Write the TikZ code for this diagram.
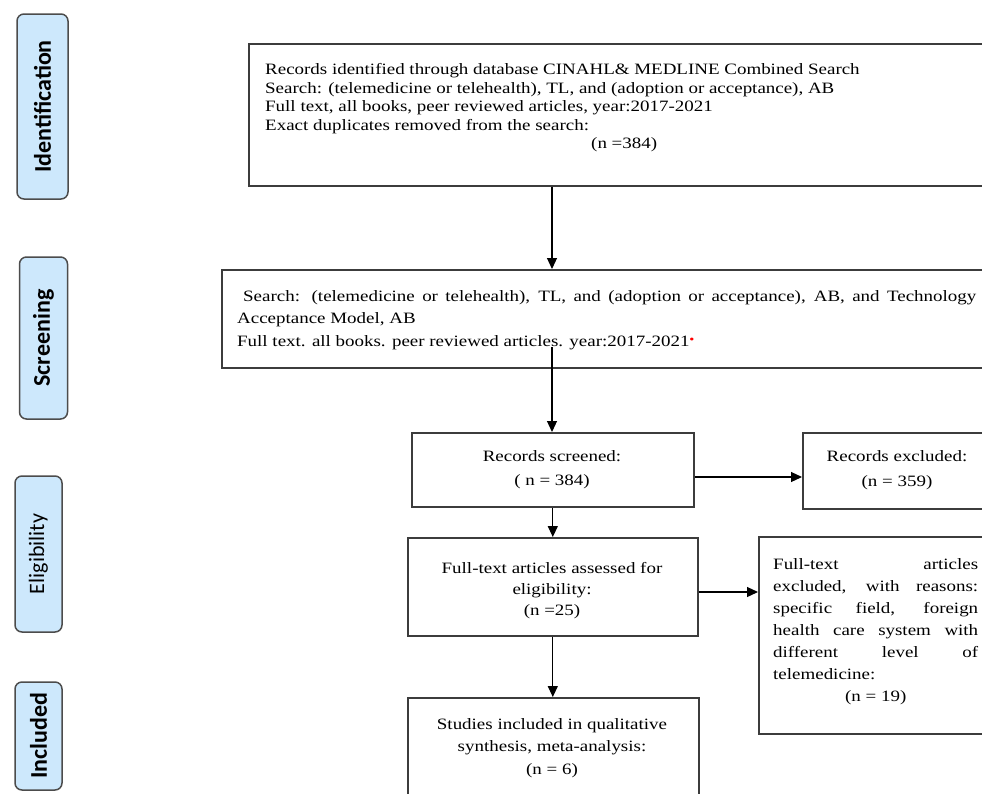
\documentclass[tikz,border=0pt]{standalone}
\usepackage{fontspec}
\setmainfont{Liberation Serif}[FakeStretch=1.2]
\newfontfamily\labelfont{Carlito}
\usetikzlibrary{arrows.meta}
\definecolor{sideblue}{RGB}{205,232,252}
\definecolor{boxline}{RGB}{60,60,60}
\begin{document}
\begin{tikzpicture}[x=1pt,y=-1pt,
  box/.style={draw=boxline, line width=1.6pt, rectangle, inner sep=0pt, anchor=north west},
  side/.style={draw=black!70, fill=sideblue, rounded corners=7pt, line width=1.5pt, inner sep=0pt},
  sidetext/.style={rotate=90, font=\labelfont\fontsize{24}{26}\selectfont\bfseries, inner sep=0pt},
  arr/.style={line width=1.2pt, -{Triangle[length=11pt,width=10pt]}},
  txt/.style={font=\fontsize{15.8}{22}\selectfont, inner sep=0pt},
]
\clip (0,0) rectangle (982,793);
\fill[white] (0,0) rectangle (982,793);

% side labels
\node[side, minimum width=51pt, minimum height=185pt] (s1) at (42.5,106.5) {};
\node[sidetext] (s1t) at (s1.center) {Identification};
\node[side, minimum width=48pt, minimum height=162pt] (s2) at (43.5,338) {};
\node[sidetext] (s2t) at (s2.center) {Screening};
\node[side, minimum width=47pt, minimum height=156pt] (s3) at (38.5,554) {};
\node[sidetext, font=\labelfont\fontsize{22}{24}\selectfont] (s3t) at (s3.center) {Eligibility};
\node[side, minimum width=47pt, minimum height=108pt] (s4) at (38.5,736) {};
\node[sidetext] (s4t) at (s4.center) {Included};

% boxes
\node[box, minimum width=760pt, minimum height=142pt] (b1) at (248,43) {};
\node[txt, font=\fontsize{15.8}{18.5}\selectfont, anchor=west, align=left] (t1) at (265,108)
  {Records identified through database CINAHL\& MEDLINE Combined Search\\
   Search: (telemedicine or telehealth), TL, and (adoption or acceptance), AB\\
   Full text, all books, peer reviewed articles, year:2017-2021\\
   Exact duplicates removed from the search:\\
   \hspace*{359pt}\makebox[0pt][c]{(n =384)}};

\node[box, minimum width=790pt, minimum height=98pt] (b2) at (221,269) {};
\node[txt, font=\fontsize{15.8}{22.5}\selectfont, anchor=west, align=left] (t2) at (237,320)
  {\hspace*{6pt}\makebox[733pt][s]{Search: (telemedicine or telehealth), TL, and (adoption or acceptance), AB, and Technology}\\
   Acceptance Model, AB\\
   Full text. all books. peer reviewed articles. year:2017-2021\raisebox{3pt}{\textcolor{red}{\fontsize{12}{12}\selectfont\textbullet}}};

\node[box, minimum width=282pt, minimum height=74pt] (b3) at (411,432) {};
\node[txt, font=\fontsize{15.8}{24}\selectfont, align=center] (t3) at (552,470) {Records screened:\\( n = 384)};

\node[box, minimum width=200pt, minimum height=76pt] (b4) at (802,432) {};
\node[txt, font=\fontsize{15.8}{25}\selectfont, align=center] (t4) at (897,470) {Records excluded:\\(n = 359)};

\node[box, minimum width=290pt, minimum height=98pt] (b5) at (407,537) {};
\node[txt, font=\fontsize{15.8}{21}\selectfont, align=center] (t5) at (552,591) {Full-text articles assessed for\\eligibility:\\(n =25)};

\node[box, minimum width=250pt, minimum height=197pt] (b6) at (758,536) {};
\node[txt, anchor=west, align=left] (t6) at (773,632)
  {\makebox[205pt][s]{Full-text articles}\\
   \makebox[205pt][s]{excluded, with reasons:}\\
   \makebox[205pt][s]{specific field, foreign}\\
   \makebox[205pt][s]{health care system with}\\
   \makebox[205pt][s]{different level of}\\
   telemedicine:\\
   \makebox[205pt][c]{(n = 19)}};

\node[box, minimum width=291pt, minimum height=130pt] (b7) at (407,697) {};
\node[txt, font=\fontsize{15.8}{22.5}\selectfont, align=center] (t7) at (552,748) {Studies included in qualitative\\synthesis, meta-analysis:\\(n = 6)};

% connectors
\coordinate (c1) at (552,0);
\coordinate (c2) at (552,347);
\draw[arr] (b1.south -| c1) -- (b2.north -| c1);
\draw[arr] (c2) -- (b3.north -| c2);
\coordinate (c3) at (0,477);
\draw[arr] (b3.east |- c3) -- (b4.west |- c3);
\draw[arr] (b3.south) -- (b5.north -| b3.south);
\coordinate (c5) at (0,592);
\draw[arr] (b5.east |- c5) -- (b6.west |- c5);
\draw[arr] (b5.south) -- (b7.north -| b5.south);
\end{tikzpicture}
\end{document}
